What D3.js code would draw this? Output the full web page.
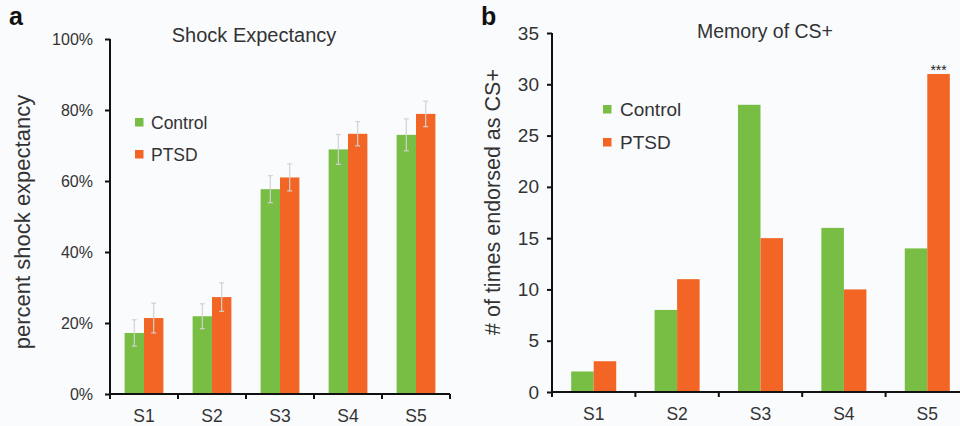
<!DOCTYPE html>
<html lang="en">
<head>
<meta charset="UTF-8">
<title>Shock Expectancy / Memory of CS+</title>
<style>
  body { margin: 0; background: #fafbfd; }
  svg text { font-family: "Liberation Sans", Arial, sans-serif; fill: #333; }
</style>
</head>
<body>
<script src="https://cdnjs.cloudflare.com/ajax/libs/d3/7.8.5/d3.min.js"></script>
<script>
// data
const stages = ['S1', 'S2', 'S3', 'S4', 'S5'];
const groups = ['Control', 'PTSD'];
const shockControl = [17.2, 21.9, 57.7, 68.9, 73.0];
const shockPTSD = [21.4, 27.3, 61.0, 73.3, 78.9];
const shockControlErr = [3.7, 3.5, 3.8, 4.2, 4.5];
const shockPTSDErr = [4.2, 4.0, 3.8, 3.4, 3.6];
const memControl = [2, 8, 28, 16, 14];
const memPTSD = [3, 11, 15, 10, 31];
const shockTicks = [0, 20, 40, 60, 80, 100];
const memTicks = [0, 5, 10, 15, 20, 25, 30, 35];

const colors = { Control: '#78be45', PTSD: '#f26524' };

const svg = d3.select('body').append('svg')
    .attr('width', 960)
    .attr('height', 426);

function panel(opt) {
    const x = d3.scaleBand().domain(stages).range(opt.xRange).paddingInner(opt.pad).paddingOuter(opt.pad / 2);
    const xs = d3.scaleBand().domain(groups).range([0, x.bandwidth()]);
    const y = d3.scaleLinear().domain(opt.yDomain).range(opt.yRange);

    const g = svg.append('g');

    const rows = stages.map((s, i) => ({
        stage: s,
        vals: groups.map(k => ({ key: k, v: opt.series[k][i], e: opt.errs ? opt.errs[k][i] : null }))
    }));

    const grp = g.selectAll('.stage').data(rows).enter().append('g')
        .attr('transform', d => `translate(${x(d.stage)},0)`);

    grp.selectAll('rect').data(d => d.vals).enter().append('rect')
        .attr('x', d => xs(d.key))
        .attr('y', d => y(d.v))
        .attr('width', xs.bandwidth())
        .attr('height', d => y(0) - y(d.v))
        .attr('fill', d => colors[d.key]);

    if (opt.errs) {
        const cx = d => xs(d.key) + xs.bandwidth() / 2;
        const eb = grp.selectAll('.err').data(d => d.vals).enter().append('g')
            .attr('stroke', '#d2d2d2').attr('stroke-width', 1.2);
        eb.append('line')
            .attr('x1', cx).attr('x2', cx)
            .attr('y1', d => y(d.v - d.e))
            .attr('y2', d => y(d.v + d.e));
        eb.append('line')
            .attr('x1', d => cx(d) - 2.5).attr('x2', d => cx(d) + 2.5)
            .attr('y1', d => y(d.v + d.e)).attr('y2', d => y(d.v + d.e));
        eb.append('line')
            .attr('x1', d => cx(d) - 2.5).attr('x2', d => cx(d) + 2.5)
            .attr('y1', d => y(d.v - d.e)).attr('y2', d => y(d.v - d.e));
    }

    // y axis
    const yAxis = g.append('g')
        .attr('transform', `translate(${opt.xRange[0]},0)`)
        .call(d3.axisLeft(y).tickValues(opt.yTicks).tickSize(5).tickPadding(opt.tickPad).tickFormat(opt.fmt));
    yAxis.select('.domain').attr('stroke', '#111').attr('stroke-width', 2).attr('d', `M0,${opt.yRange[0]}V${opt.yRange[1]}`);
    yAxis.selectAll('.tick line').attr('stroke', '#111').attr('stroke-width', 2);
    yAxis.selectAll('.tick text').attr('font-size', opt.tickSize).style('fill', '#333');

    // x axis
    const xAxis = g.append('g')
        .attr('transform', `translate(0,${opt.yRange[0]})`)
        .call(d3.axisBottom(x).tickSize(0).tickPadding(16));
    xAxis.select('.domain').attr('stroke', '#111').attr('stroke-width', 2).attr('d', `M${opt.xRange[0]},0H${opt.xRange[1]}`);
    xAxis.selectAll('.tick text').attr('font-size', 17.5).style('fill', '#333');
    const bounds = stages.map(s => x(s) - x.step() * x.paddingInner() / 2).concat([opt.xRange[1]]);
    xAxis.selectAll('.sep').data(bounds).enter().append('line')
        .attr('x1', d => d).attr('x2', d => d)
        .attr('y1', 0).attr('y2', 5)
        .attr('stroke', '#111').attr('stroke-width', 2);

    // title, panel letter, axis label
    g.append('text').attr('x', opt.titleX).attr('y', opt.titleY)
        .attr('text-anchor', 'middle').attr('font-size', opt.titleSize).text(opt.title);
    g.append('text').attr('x', opt.letterX).attr('y', 25)
        .attr('font-size', 25).attr('font-weight', 'bold').style('fill', '#111').text(opt.letter);
    g.append('text')
        .attr('transform', `translate(${opt.labelX},${opt.labelY}) rotate(-90)`)
        .attr('text-anchor', 'middle').attr('font-size', opt.labelSize).text(opt.ylabel);

    // legend
    const lg = g.selectAll('.lg').data(groups).enter().append('g')
        .attr('transform', (d, i) => `translate(${opt.legX},${opt.legY + i * opt.legGap})`);
    lg.append('rect').attr('x', 0).attr('y', -11).attr('width', 8.5).attr('height', 8.5)
        .attr('fill', d => colors[d]);
    lg.append('text').attr('x', opt.legTextX).attr('y', 0).attr('font-size', opt.legSize).text(d => d);

    return { x, xs, y, g };
}

panel({
    series: { Control: shockControl, PTSD: shockPTSD },
    errs: { Control: shockControlErr, PTSD: shockPTSDErr },
    xRange: [110, 450], pad: 0.43,
    yDomain: [0, 100], yRange: [394, 39], yTicks: shockTicks,
    fmt: d => d + '%', tickSize: 16, tickPad: 12,
    title: 'Shock Expectancy', titleX: 254, titleY: 42, titleSize: 20,
    letter: 'a', letterX: 9,
    ylabel: 'percent shock expectancy', labelX: 30, labelY: 222, labelSize: 22,
    legX: 135, legY: 129, legGap: 32, legTextX: 16, legSize: 17.5
});

const right = panel({
    series: { Control: memControl, PTSD: memPTSD },
    errs: null,
    xRange: [552, 969], pad: 0.46,
    yDomain: [0, 35], yRange: [392, 33], yTicks: memTicks,
    fmt: d => d, tickSize: 19, tickPad: 8,
    title: 'Memory of CS+', titleX: 765, titleY: 38, titleSize: 19.5,
    letter: 'b', letterX: 481,
    ylabel: '# of times endorsed as CS+', labelX: 500, labelY: 202, labelSize: 21.5,
    legX: 603, legY: 116, legGap: 33, legTextX: 17, legSize: 19
});

// significance marker
right.g.append('text')
    .attr('x', right.x('S5') + right.xs('PTSD') + right.xs.bandwidth() / 2)
    .attr('y', right.y(memPTSD[4]) + 1)
    .attr('text-anchor', 'middle').attr('font-size', 14).style('fill', '#222')
    .text('***');
</script>
</body>
</html>
